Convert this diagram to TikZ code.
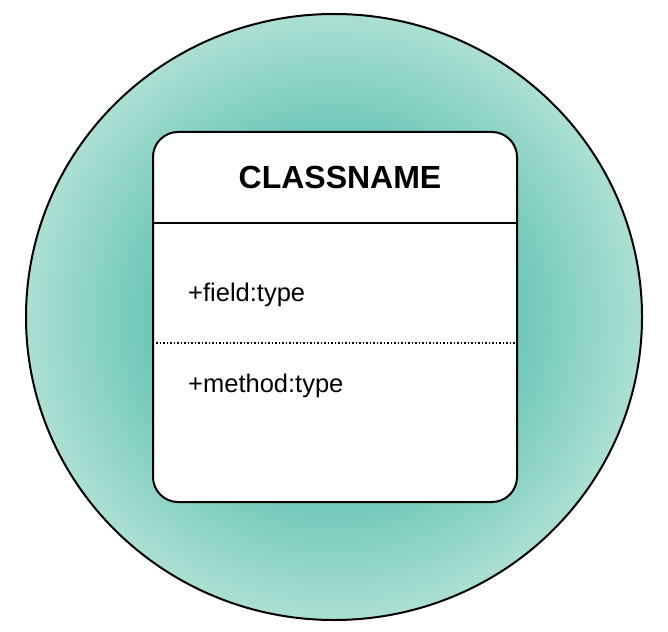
\documentclass[tikz,border=0pt]{standalone}
\usepackage{fontspec}
\setmainfont{Liberation Sans}
\usetikzlibrary{shapes.geometric}

\definecolor{ringmid}{RGB}{17,165,142}
\definecolor{ringrim}{RGB}{172,223,212}
\pgfdeclareradialshading{ringshade}{\pgfpoint{0bp}{0bp}}{color(0bp)=(ringmid); color(25bp)=(ringrim); color(50bp)=(ringrim)}

\tikzset{
  member/.style={anchor=west, inner sep=0pt, font=\fontsize{25.5}{28}\selectfont},
  rule/.style={line width=2pt}
}

\begin{document}
\begin{tikzpicture}[x=1pt, y=-1pt]
\useasboundingbox (0,0) rectangle (668,631);

\node[ellipse, draw, line width=2pt, shading=ringshade,
      minimum width=616pt, minimum height=606pt, inner sep=0pt] (disc) at (334,317) {};

\node[draw, fill=white, line width=2pt, rounded corners=25pt,
      minimum width=364pt, minimum height=370pt, inner sep=0pt] (cls) at (335,317) {};

\node[font=\bfseries\fontsize{32}{35}\selectfont, inner sep=0pt] (title) at (340,177) {CLASSNAME};
\draw[rule] ([yshift=-92pt]cls.north west) -- ([yshift=-92pt]cls.north east);

\node[member] (field) at (188,295) {+field:type};
\draw[line width=1.5pt, dotted] ([xshift=4pt,yshift=-212pt]cls.north west) -- ([xshift=-2pt,yshift=-212pt]cls.north east);
\node[member] (method) at (188,386) {+method:type};
\end{tikzpicture}
\end{document}
